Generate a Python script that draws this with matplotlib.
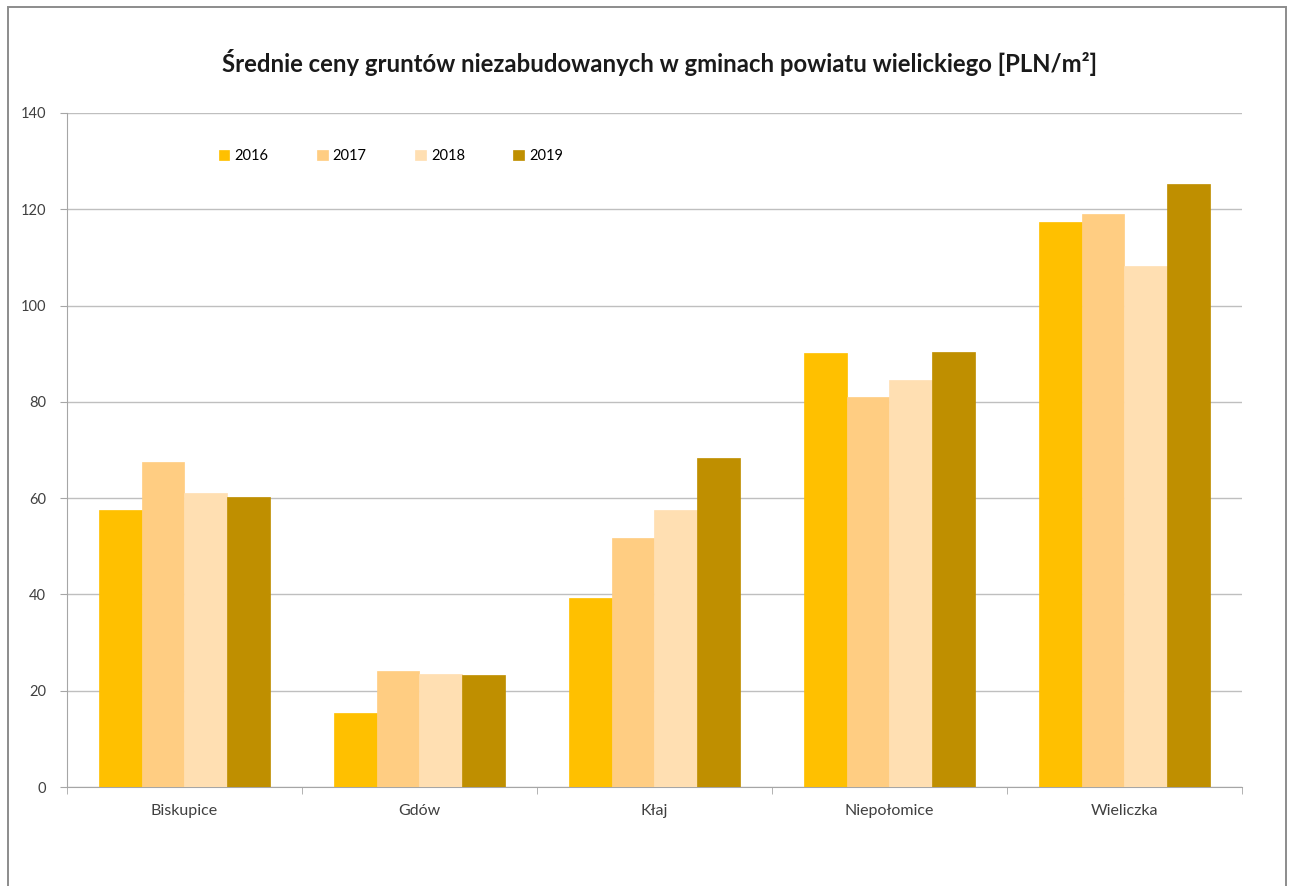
import matplotlib.pyplot as plt
import numpy as np
from matplotlib.patches import Rectangle

plt.rcParams['font.family'] = ['Lato', 'DejaVu Sans']

gminy = ['Biskupice', 'Gdów', 'Kłaj', 'Niepołomice', 'Wieliczka']
lata = ['2016', '2017', '2018', '2019']
ceny_2016 = [57.5, 15.4, 39.3, 90.2, 117.4]
ceny_2017 = [67.5, 24.1, 51.7, 81.0, 119.0]
ceny_2018 = [61.1, 23.5, 57.5, 84.5, 108.2]
ceny_2019 = [60.2, 23.3, 68.3, 90.4, 125.3]
kolory = ['#FFC000', '#FFCD82', '#FFDFB2', '#BF8F00']

fig = plt.figure(figsize=(12.91, 8.86), dpi=100)
ax = fig.add_axes([0.0519, 0.1117, 0.9101, 0.7608])

# ramka wokół wykresu (dolna krawędź poza obrazkiem)
fig.patches.append(Rectangle((0.0062, -0.02), 0.9900, 1.012, transform=fig.transFigure,
                             fill=False, edgecolor='#8C8C8C', linewidth=1.4))

x = np.arange(len(gminy))
w = 0.181
for i, (rok, dane) in enumerate(zip(lata, [ceny_2016, ceny_2017, ceny_2018, ceny_2019])):
    ax.bar(x + (i - 1.5) * w, dane, width=w, color=kolory[i], label=rok,
           edgecolor=kolory[i], linewidth=0.5, zorder=3)

ax.set_xlim(-0.5, len(gminy) - 0.5)
ax.set_ylim(0, 140)
ax.set_yticks(range(0, 141, 20))
ax.set_xticks(x)
ax.set_xticklabels(gminy)
ax.set_xticks(np.arange(-0.5, len(gminy)), minor=True)
ax.tick_params(axis='x', which='major', length=0, pad=12, labelsize=11.5, labelcolor='#404040')
ax.tick_params(axis='x', which='minor', length=5, color='#A6A6A6')
ax.tick_params(axis='y', length=5, color='#A6A6A6', labelsize=10.5, labelcolor='#404040', pad=10)

ax.grid(axis='y', color='#BFBFBF', linewidth=1.0, zorder=0)
for s in ['top', 'right']:
    ax.spines[s].set_visible(False)
ax.spines['left'].set_color('#A6A6A6')
ax.spines['bottom'].set_color('#A6A6A6')

fig.text(0.511, 0.929, 'Średnie ceny gruntów niezabudowanych w gminach powiatu wielickiego [PLN/m²]',
         ha='center', va='center', fontsize=17.2, fontweight='bold', color='#1a1a1a')

ax.legend(loc='center left', bbox_to_anchor=(0.124, 0.936), ncol=4, frameon=False,
          handlelength=0.75, handleheight=0.75, handletextpad=0.35, columnspacing=3.3,
          fontsize=10.5, borderaxespad=0)

plt.savefig('out.png', dpi=100)
